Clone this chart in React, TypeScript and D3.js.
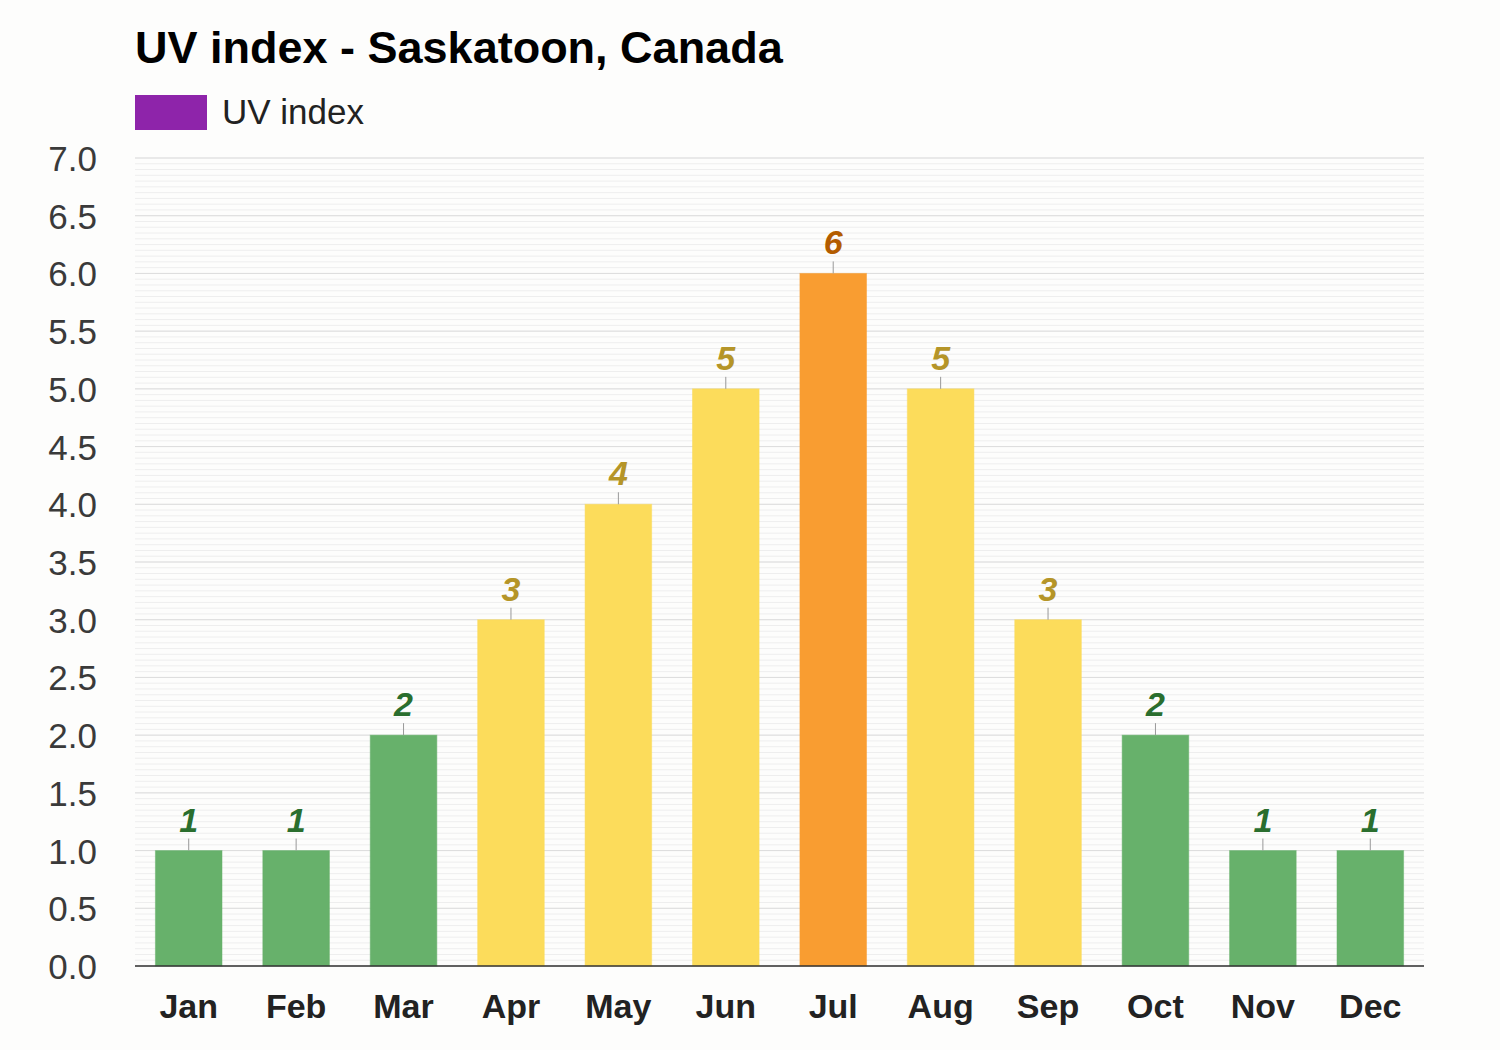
import React from "react";
import * as d3 from "d3";

const months = ["Jan", "Feb", "Mar", "Apr", "May", "Jun", "Jul", "Aug", "Sep", "Oct", "Nov", "Dec"];
const uvValues = [1, 1, 2, 3, 4, 5, 6, 5, 3, 2, 1, 1];
const yTicks = [0, 0.5, 1, 1.5, 2, 2.5, 3, 3.5, 4, 4.5, 5, 5.5, 6, 6.5, 7];

const W = 1500, H = 1050;
const left = 135, right = 1424, top = 158, bottom = 966;

function barColor(v: number) {
  if (v <= 2) return "#67b16b";
  if (v <= 5) return "#fcdc5b";
  return "#f99d31";
}
function labelColor(v: number) {
  if (v <= 2) return "#2a6e2e";
  if (v <= 5) return "#b59528";
  return "#b35c00";
}

export default function App() {
  const x = d3.scaleBand<string>().domain(months).range([left, right]).paddingInner(0.38).paddingOuter(0.19);
  const y = d3.scaleLinear().domain([0, 7]).range([bottom, top]);
  const minor = d3.range(0, 7.0001, 0.05).map((v) => Math.round(v * 100) / 100);
  const font = "'Liberation Sans', Arial, Helvetica, sans-serif";
  return (
    <svg width={W} height={H} style={{ position: "absolute", left: 0, top: 0, background: "#fdfdfc" }} fontFamily={font}>
      <rect x={0} y={0} width={W} height={H} fill="#fdfdfc" />
      <text x={135} y={63} fontSize={45} fontWeight="bold" fill="#000">UV index - Saskatoon, Canada</text>
      <rect x={135} y={95} width={72} height={35} fill="#8e24aa" />
      <text x={222} y={124} fontSize={35} fill="#222">UV index</text>
      {minor.map((v) => (
        <line key={"m" + v} x1={left} x2={right} y1={y(v)} y2={y(v)} stroke="#eeeeee" strokeWidth={1} />
      ))}
      {yTicks.map((v) => (
        <g key={"t" + v}>
          <line x1={left} x2={right} y1={y(v)} y2={y(v)} stroke="#dddddd" strokeWidth={1} />
          <text x={97} y={y(v) + 13} fontSize={35} textAnchor="end" fill="#3a3a3a">{v.toFixed(1)}</text>
        </g>
      ))}
      {months.map((m, i) => {
        const v = uvValues[i];
        const bx = x(m)!;
        const bw = x.bandwidth();
        const cx = bx + bw / 2;
        return (
          <g key={m}>
            <rect x={bx} y={y(v)} width={bw} height={y(0) - y(v)} fill={barColor(v)} stroke={barColor(v)} strokeOpacity={0.5} />
            <line x1={cx} x2={cx} y1={y(v) - 12} y2={y(v)} stroke="#999" strokeWidth={1} />
            <text x={cx} y={y(v) - 19} fontSize={34} fontWeight="bold" fontStyle="italic" textAnchor="middle" fill={labelColor(v)}>{v}</text>
            <text x={cx} y={1018} fontSize={34} fontWeight="bold" textAnchor="middle" fill="#222">{m}</text>
          </g>
        );
      })}
      <line x1={left} x2={right} y1={bottom} y2={bottom} stroke="#333" strokeWidth={1.5} />
    </svg>
  );
}
